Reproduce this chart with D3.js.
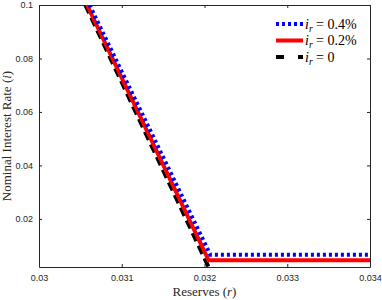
<!DOCTYPE html>
<html>
<head>
<meta charset="utf-8">
<script src="https://cdn.jsdelivr.net/npm/d3@7"></script>
<style>
  body { margin: 0; background: #fff; }
  svg { display: block; }
</style>
</head>
<body>
<svg id="chart" width="382" height="300"></svg>
<script>
// data
const xTicks = [0.03, 0.031, 0.032, 0.033, 0.034];
const yTicks = [0.02, 0.04, 0.06, 0.08, 0.1];

const seriesNames = ["0.4%", "0.2%", "0"];
const blueLine = [[0.03061, 0.1], [0.03207, 0.0066], [0.034, 0.0066]];
const redLine = [[0.03058, 0.1], [0.03205, 0.0045], [0.034, 0.0045]];
const blackLine = [[0.03056, 0.1], [0.03208, 0.0], [0.034, 0.0]];

const svg = d3.select("#chart");
const margin = { left: 39, right: 12, top: 5, bottom: 33 };
const width = +svg.attr("width");
const height = +svg.attr("height");
const axisColor = "#262626";

const x = d3.scaleLinear().domain([0.03, 0.034]).range([margin.left, width - margin.right]);
const y = d3.scaleLinear().domain([0.002, 0.1]).range([height - margin.bottom, margin.top]);

svg.append("defs").append("clipPath").attr("id", "clip")
    .append("rect")
    .attr("x", x.range()[0]).attr("y", y.range()[1])
    .attr("width", x.range()[1] - x.range()[0])
    .attr("height", y.range()[0] - y.range()[1]);

// axes (box with ticks on all four sides, pointing inward)
function styleAxis(g) {
    g.selectAll("path").attr("stroke", axisColor).attr("stroke-width", 1);
    g.selectAll("line").attr("stroke", axisColor);
    g.selectAll("text").attr("fill", axisColor)
        .style("font-family", "'Liberation Sans', Arial, sans-serif")
        .style("font-size", "9px");
}
const fmt = d => String(+d.toFixed(3));

svg.append("g")
    .attr("transform", `translate(0,${y.range()[0]})`)
    .call(d3.axisBottom(x).tickValues(xTicks).tickFormat(fmt).tickSizeInner(-3).tickSizeOuter(0).tickPadding(8))
    .call(styleAxis);
svg.append("g")
    .attr("transform", `translate(0,${y.range()[1]})`)
    .call(d3.axisTop(x).tickValues(xTicks).tickFormat("").tickSizeInner(-3).tickSizeOuter(0))
    .call(styleAxis);
svg.append("g")
    .attr("transform", `translate(${x.range()[0]},0)`)
    .call(d3.axisLeft(y).tickValues(yTicks).tickFormat(fmt).tickSizeInner(-3).tickSizeOuter(0).tickPadding(6))
    .call(styleAxis);
svg.append("g")
    .attr("transform", `translate(${x.range()[1]},0)`)
    .call(d3.axisRight(y).tickValues(yTicks).tickFormat("").tickSizeInner(-3).tickSizeOuter(0))
    .call(styleAxis);

// lines
const line = d3.line().x(d => x(d[0])).y(d => y(d[1]));
const styles = [
    { data: blueLine, color: "#0000ff", dash: "3,3" },
    { data: redLine, color: "#ff0000", dash: null },
    { data: blackLine, color: "#000000", dash: "9,5" }
];
const plot = svg.append("g").attr("clip-path", "url(#clip)");
// draw black first, then red, then blue dotted on top (as in the picture)
[styles[2], styles[1], styles[0]].forEach(s => {
    plot.append("path")
        .datum(s.data)
        .attr("d", line)
        .attr("fill", "none")
        .attr("stroke", s.color)
        .attr("stroke-width", 4)
        .attr("stroke-dasharray", s.dash);
});

// legend
const serif = "'Liberation Serif', 'Times New Roman', serif";
const legend = svg.append("g").attr("transform", "translate(276,24)");
styles.forEach((s, i) => {
    const row = legend.append("g").attr("transform", `translate(0,${i * 16.5})`);
    row.append("line")
        .attr("x1", 0).attr("x2", 27).attr("y1", 0).attr("y2", 0)
        .attr("stroke", s.color).attr("stroke-width", 4)
        .attr("stroke-dasharray", s.dash === "9,5" ? "8,14" : s.dash);
    const t = row.append("text")
        .attr("x", 29).attr("y", 4.5)
        .style("font-family", serif).style("font-size", "14px")
        .attr("fill", "#000");
    t.append("tspan").style("font-style", "italic").text("i");
    t.append("tspan").style("font-style", "italic").style("font-size", "9.5px").attr("dy", 3).text("r");
    t.append("tspan").attr("dy", -3).text(" = " + seriesNames[i]);
});

// axis labels
const xl = svg.append("text")
    .attr("x", (x.range()[0] + x.range()[1]) / 2).attr("y", 296)
    .attr("text-anchor", "middle")
    .style("font-family", serif).style("font-size", "13px").attr("fill", axisColor);
xl.append("tspan").text("Reserves (");
xl.append("tspan").style("font-style", "italic").text("r");
xl.append("tspan").text(")");

const yl = svg.append("text")
    .attr("transform", `translate(11,${(y.range()[0] + y.range()[1]) / 2}) rotate(-90)`)
    .attr("text-anchor", "middle")
    .style("font-family", serif).style("font-size", "13px").attr("fill", axisColor);
yl.append("tspan").text("Nominal Interest Rate (");
yl.append("tspan").style("font-style", "italic").text("i");
yl.append("tspan").text(")");
</script>
</body>
</html>
